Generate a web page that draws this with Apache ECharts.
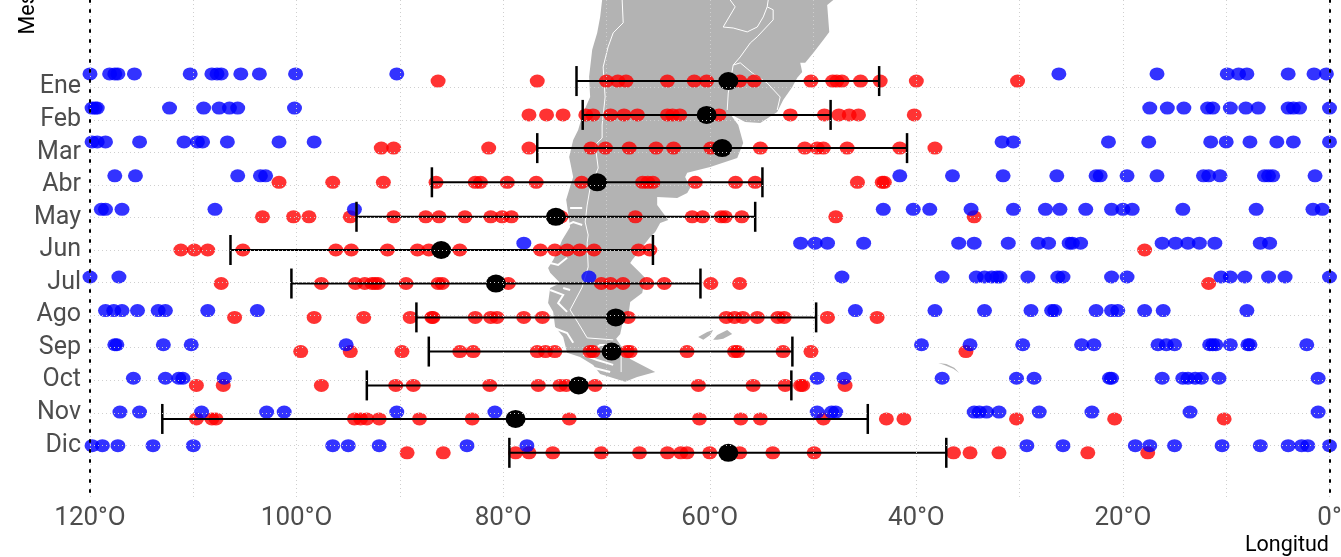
<!DOCTYPE html>
<html><head><meta charset="utf-8">
<style>html,body{margin:0;padding:0;background:#fff}#c{width:1341px;height:557px}</style>
<script src="https://cdn.jsdelivr.net/npm/echarts@6/dist/echarts.min.js"></script>
</head><body><div id="c"></div>
<script>
const months = ['Ene','Feb','Mar','Abr','May','Jun','Jul','Ago','Sep','Oct','Nov','Dic'];
const monthTicks = [1,2,3,4,5,6,7,8,9,10,11,12];
// row (in month units of the y axis) on which each group is plotted
const redRow  = [0.81,1.85,2.87,3.92,4.98,6.0,7.03,8.07,9.12,10.16,11.19,12.23];
const blueRow = [0.59,1.64,2.68,3.72,4.75,5.79,6.83,7.86,8.91,9.94,10.98,12.01];

const blueEne=[-120,-118.1,-117.6,-117.3,-115.7,-110.3,-108.2,-107.7,-107.3,-105.4,-103.6,-100.1,-90.3,-26.2,-16.7,-9.9,-8.8,-8.0,-4.0,-1.5,-0.3];
const blueFeb=[-119.8,-119.5,-119.3,-112.3,-109.0,-107.5,-106.5,-105.7,-100.2,-17.4,-15.7,-14.1,-11.8,-11.3,-9.6,-8.1,-6.9,-4.0,-3.5,-2.9,0];
const blueMar=[-119.8,-119.3,-118.5,-115.2,-110.9,-109.6,-109.1,-106.7,-101.7,-98.3,-31.7,-30.6,-21.4,-17.5,-11.5,-10.0,-7.7,-5.1,-3.5,0];
const blueAbr=[-117.6,-115.6,-105.7,-103.5,-103.0,-41.6,-36.5,-31.6,-26.4,-22.6,-22.2,-19.6,-16.7,-12.2,-11.7,-10.6,-6.3,-5.9,-5.5,-1.4];
const blueMay=[-118.9,-118.5,-116.9,-107.9,-94.4,-43.2,-40.3,-38.7,-34.7,-30.6,-27.5,-26.1,-23.6,-21.1,-20.0,-19.1,-14.2,-7.1,-1.6,-0.7];
const blueJun=[-78.0,-51.2,-49.8,-48.6,-45.1,-35.9,-34.4,-31.1,-28.2,-27.2,-25.2,-24.9,-24.1,-16.2,-14.9,-13.7,-12.6,-11.1,-6.7,-5.8];
const blueJul=[-120,-117.2,-71.7,-47.2,-37.5,-34.2,-33.4,-32.7,-32.2,-31.9,-29.2,-26.3,-25.8,-21.1,-19.6,-10.5,-9.6,-8.2,-5.9,-4.3,0];
const blueAgo=[-118.5,-117.7,-116.9,-115.4,-113.4,-112.7,-108.6,-103.8,-45.9,-38.2,-33.4,-28.9,-26.9,-26.6,-22.6,-21.1,-20.5,-17.9,-16.1,-8.0];
const blueSep=[-117.6,-117.4,-112.9,-110.2,-95.2,-39.5,-34.8,-29.7,-24.0,-22.8,-16.6,-15.8,-15.0,-11.6,-11.3,-11.0,-9.6,-7.9,-7.7,-2.2];
const blueOct=[-115.8,-112.7,-111.4,-111.0,-107.0,-49.6,-47.0,-37.5,-30.3,-28.6,-21.3,-21.1,-16.2,-14.2,-13.7,-13.0,-12.4,-10.7,-1.1];
const blueNov=[-117.1,-115.2,-109.2,-102.9,-101.2,-90.3,-80.8,-70.2,-49.6,-48.2,-47.8,-34.4,-33.9,-33.2,-32.0,-28.1,-23.0,-13.5,-1.1];
const blueDic=[-119.8,-118.8,-117.3,-113.9,-110.0,-96.5,-95.0,-92.0,-83.5,-77.7,-29.3,-25.8,-18.8,-17.4,-15.0,-10.4,-6.7,-4.0,-2.7,-2.1,0];

const redEne=[-86.3,-76.7,-70.0,-68.9,-68.1,-64.1,-61.5,-60.3,-57.1,-55.7,-50.2,-48.1,-47.7,-47.2,-45.4,-43.5,-40.0,-30.2];
const redFeb=[-77.5,-75.8,-74.2,-72.0,-71.3,-69.6,-68.3,-67.0,-64.1,-63.6,-62.9,-59.1,-52.2,-48.9,-47.5,-46.5,-45.6,-40.2];
const redMar=[-91.8,-90.6,-81.4,-77.5,-71.5,-70.1,-67.8,-65.2,-63.5,-59.9,-55.1,-50.8,-49.6,-49.0,-46.7,-41.6,-38.2];
const redAbr=[-101.7,-96.5,-91.6,-86.5,-82.7,-82.2,-79.6,-76.8,-72.4,-66.5,-66.0,-65.5,-61.4,-57.5,-55.6,-45.7,-43.3,-43.1];
const redMay=[-103.3,-100.3,-98.8,-94.8,-90.6,-87.5,-86.2,-83.7,-81.2,-80.1,-79.2,-74.4,-67.2,-61.7,-60.7,-58.9,-58.5,-56.9,-47.8,-34.4];
const redJun=[-111.2,-109.9,-108.6,-105.2,-96.2,-94.7,-91.2,-88.3,-87.2,-84.2,-76.4,-75.0,-73.8,-72.6,-71.2,-66.9,-65.8,-17.9];
const redJul=[-107.3,-97.6,-94.3,-93.4,-92.7,-92.4,-92.1,-89.4,-86.3,-85.9,-79.5,-70.5,-69.6,-68.4,-66.1,-64.4,-59.9,-57.1,-11.7];
const redAgo=[-106.0,-98.3,-93.5,-89.0,-86.9,-86.8,-82.7,-81.2,-80.6,-78.0,-76.2,-67.9,-58.4,-57.6,-56.8,-55.4,-53.4,-52.8,-48.6,-43.8];
const redSep=[-99.6,-94.8,-89.8,-84.2,-82.9,-76.7,-75.9,-75.0,-71.6,-71.3,-68.0,-67.7,-62.2,-57.6,-57.3,-52.9,-50.2,-35.2];
const redOct=[-109.7,-107.1,-97.6,-90.4,-88.7,-81.3,-76.6,-74.5,-73.9,-71.1,-61.1,-55.8,-52.7,-51.2,-51.0,-46.9];
const redNov=[-109.7,-108.2,-107.8,-94.4,-93.8,-93.2,-92.0,-88.1,-83.0,-73.6,-61.0,-57.0,-55.1,-49.0,-42.9,-41.2,-30.3,-20.8,-10.2];
const redDic=[-89.3,-85.8,-78.8,-77.5,-75.2,-70.5,-66.8,-64.1,-62.8,-62.2,-60.0,-57.1,-53.9,-49.9,-36.4,-34.8,-32.0,-23.4,-17.6];

const blueLon=[blueEne,blueFeb,blueMar,blueAbr,blueMay,blueJun,blueJul,blueAgo,blueSep,blueOct,blueNov,blueDic];
const redLon=[redEne,redFeb,redMar,redAbr,redMay,redJun,redJul,redAgo,redSep,redOct,redNov,redDic];

const meanLon=[-58.2,-60.3,-58.8,-70.9,-74.9,-86.0,-80.7,-69.1,-69.5,-72.7,-78.8,-58.2];
const lowLon =[-72.9,-72.3,-76.7,-86.9,-94.2,-106.4,-100.5,-88.4,-87.2,-93.2,-113.0,-79.4];
const highLon=[-43.6,-48.3,-40.9,-54.9,-55.6,-65.5,-60.9,-49.7,-52.0,-52.1,-44.7,-37.1];

// Background map, in axis units: [longitude, row]
const landMain=[[-70.42,-1.68],[-70.61,-1.16],[-70.90,-0.67],[-71.19,-0.36],[-71.38,-0.15],[-71.68,0.68],[-71.58,1.30],[-72.26,1.79],[-72.74,2.31],[-73.22,2.62],[-73.61,3.14],[-73.22,3.76],[-73.52,4.06],[-73.90,4.46],[-73.71,4.86],[-73.52,5.29],[-74.29,5.69],[-74.68,6.00],[-75.16,6.31],[-75.65,6.55],[-75.45,6.70],[-74.48,7.01],[-75.45,7.17],[-75.65,7.63],[-75.16,7.90],[-74.97,8.36],[-74.19,8.67],[-73.81,9.16],[-72.55,9.29],[-71.29,9.53],[-70.61,9.81],[-68.19,10.05],[-67.03,9.90],[-65.28,9.75],[-67.70,9.35],[-69.06,8.73],[-68.67,8.58],[-68.38,8.15],[-67.90,8.06],[-67.70,7.60],[-66.54,7.32],[-66.25,6.86],[-66.74,6.70],[-67.70,6.40],[-67.51,6.31],[-65.77,5.60],[-65.28,5.45],[-64.80,5.17],[-64.02,5.08],[-65.09,4.62],[-65.09,4.37],[-63.15,4.40],[-62.18,4.25],[-61.89,4.09],[-62.38,3.76],[-62.18,3.63],[-59.96,3.45],[-57.34,3.17],[-56.76,2.71],[-57.24,2.16],[-58.02,1.82],[-56.57,2.07],[-55.11,2.10],[-53.47,1.76],[-52.89,1.39],[-52.01,0.99],[-51.53,0.71],[-51.05,0.53],[-51.24,0.25],[-50.76,0.25],[-49.98,-0.05],[-49.01,-0.45],[-48.43,-0.70],[-48.63,-1.53],[-48.04,-1.68]];
const falklandWest=[[-61.12,8.67],[-60.25,8.52],[-59.67,8.46],[-59.96,8.61],[-60.63,8.76]];
const falklandEast=[[-59.67,8.76],[-59.28,8.61],[-58.31,8.46],[-57.83,8.58],[-58.70,8.73],[-59.28,8.76]];
const southGeorgia=[[-37.87,9.47],[-37.10,9.50],[-36.33,9.62],[-35.84,9.78],[-36.42,9.65],[-37.29,9.53]];
const landShapes=[landMain,falklandWest,falklandEast,southGeorgia];

const borderChile=[[-68.48,-1.68],[-68.38,-0.98],[-69.35,-0.67],[-69.84,-0.24],[-70.32,0.38],[-70.13,1.30],[-70.42,2.16],[-70.42,2.56],[-71.09,2.77],[-70.80,3.48],[-71.58,4.09],[-71.87,4.62],[-72.06,5.14],[-71.77,5.54],[-71.87,5.78],[-71.77,6.52],[-72.35,7.14],[-73.52,7.84],[-72.74,8.24],[-71.87,8.70],[-69.35,8.76]];
const borderFuego=[[-68.58,9.22],[-68.58,9.75]];
const borderBolivia=[[-58.02,-1.68],[-57.54,-1.47],[-58.70,-0.85],[-57.73,-0.82],[-56.37,-0.70],[-55.40,-0.85],[-54.82,-1.16],[-54.44,-1.47],[-54.34,-1.68]];
const borderBrazil=[[-54.44,-1.47],[-53.86,-1.38],[-53.86,-1.07],[-55.40,-0.55],[-56.08,-0.36],[-57.05,0.07],[-57.73,0.32]];
const borderUruguayN=[[-57.73,0.32],[-57.05,0.25],[-55.89,0.56],[-54.44,0.87],[-53.18,1.30],[-53.47,1.70]];
const borderUruguayW=[[-57.73,0.32],[-58.21,1.18],[-58.31,1.70]];
const borders=[borderChile,borderFuego,borderBolivia,borderBrazil,borderUruguayN,borderUruguayW];

const fjords=[
 [[-73.52,4.71],[-72.35,4.71]],
 [[-74.19,5.29],[-73.22,5.14],[-72.35,5.23]],
 [[-75.45,6.40],[-74.68,6.46],[-73.81,6.24]],
 [[-75.45,7.23],[-74.19,7.38],[-74.68,7.63],[-73.81,7.90]],
 [[-74.19,7.17],[-73.52,7.23]],
 [[-75.16,8.39],[-73.81,8.55],[-73.22,8.85]],
 [[-73.81,9.29],[-72.55,9.44],[-71.29,9.62],[-69.64,9.75]],
 [[-72.26,9.22],[-70.90,9.38],[-69.35,9.53]],
 [[-68.87,8.92],[-70.61,8.92],[-71.58,9.13]]
];

const xTitle='Longitud', yTitle='Mes';
const font='Roboto';
const points=(lons,rows)=>lons.flatMap((a,i)=>a.map(v=>[v,rows[i]]));
const yBase={type:'value',min:-1.68,max:13.68,inverse:true,z:5};

const chart=echarts.init(document.getElementById('c'),null,{renderer:'canvas'});
chart.setOption({
 animation:false,
 backgroundColor:'#fff',
 grid:{left:90,right:11.5,top:0,bottom:57,containLabel:false,outerBoundsMode:'none'},
 xAxis:{type:'value',min:-120,max:0,interval:10,z:5,position:'bottom',
  axisLine:{show:false,onZero:false},axisTick:{show:false},
  axisLabel:{fontFamily:font,fontSize:26,color:'#4D4D4D',margin:5,hideOverlap:false,
   formatter:v=>v%20!==0?'':(v===0?'0°':Math.abs(v)+'°O')},
  splitLine:{show:true,lineStyle:{color:'#cfcfcf',width:1,type:[1,3]}}},
 yAxis:[
  Object.assign({},yBase,{position:'left',
   axisLine:{show:true,onZero:false,lineStyle:{color:'#000',width:2,type:[2,8]}},
   axisTick:{show:false,customValues:monthTicks},
   axisLabel:{fontFamily:font,fontSize:25,color:'#4D4D4D',margin:9,customValues:monthTicks,formatter:v=>months[v-1]},
   splitLine:{show:true,lineStyle:{color:'#cfcfcf',width:1,type:[1,3]}}}),
  Object.assign({},yBase,{position:'right',
   axisLine:{show:true,onZero:false,lineStyle:{color:'#000',width:2,type:[2,8]}},
   axisTick:{show:false},axisLabel:{show:false},splitLine:{show:false}})
 ],
 graphic:[
  {type:'text',x:1329,y:546,style:{text:xTitle,fontFamily:font,fontSize:21.5,fill:'#000',textAlign:'right',textVerticalAlign:'middle'}},
  {type:'text',x:18,y:34.5,rotation:Math.PI/2,style:{text:yTitle,fontFamily:font,fontSize:21.5,fill:'#000',textAlign:'left',textVerticalAlign:'alphabetic'}}
 ],
 series:[
  {type:'custom',name:'Mapa',coordinateSystem:'cartesian2d',clip:true,silent:true,z:1,
   data:[[-60,1]],
   renderItem:(p,api)=>({type:'group',children:[
    ...landShapes.map(s=>({type:'polygon',shape:{points:s.map(q=>api.coord(q))},style:{fill:'#B3B3B3',stroke:null}})),
    ...borders.map(s=>({type:'polyline',shape:{points:s.map(q=>api.coord(q))},style:{fill:null,stroke:'#fff',lineWidth:1}})),
    ...fjords.map(s=>({type:'polyline',shape:{points:s.map(q=>api.coord(q))},style:{fill:null,stroke:'#fff',lineWidth:2}}))
   ]})},
  {type:'scatter',name:'Rojo',z:2,symbol:'circle',symbolSize:[15,13],silent:true,
   itemStyle:{color:'#FF0000',opacity:0.8},data:points(redLon,redRow)},
  {type:'scatter',name:'Azul',z:3,symbol:'circle',symbolSize:[15,13],silent:true,
   itemStyle:{color:'#0000FF',opacity:0.8},data:points(blueLon,blueRow)},
  {type:'custom',name:'Rango',coordinateSystem:'cartesian2d',clip:true,silent:true,z:4,
   data:months.map((m,i)=>[lowLon[i],highLon[i],redRow[i]]),
   encode:{x:[0,1],y:2},
   renderItem:(p,api)=>{
    const a=api.coord([api.value(0),api.value(2)]),b=api.coord([api.value(1),api.value(2)]);
    const st={stroke:'#000',lineWidth:2};
    const cap={stroke:'#000',lineWidth:2.5};
    return {type:'group',children:[
     {type:'line',shape:{x1:a[0],y1:a[1],x2:b[0],y2:b[1]},style:st},
     {type:'line',shape:{x1:a[0],y1:a[1]-15,x2:a[0],y2:a[1]+15},style:cap},
     {type:'line',shape:{x1:b[0],y1:b[1]-15,x2:b[0],y2:b[1]+15},style:cap}]};
   }},
  {type:'scatter',name:'Media',z:4,symbol:'circle',symbolSize:[20,18],silent:true,
   itemStyle:{color:'#000',opacity:1},data:meanLon.map((v,i)=>[v,redRow[i]])}
 ]
});
</script></body></html>
